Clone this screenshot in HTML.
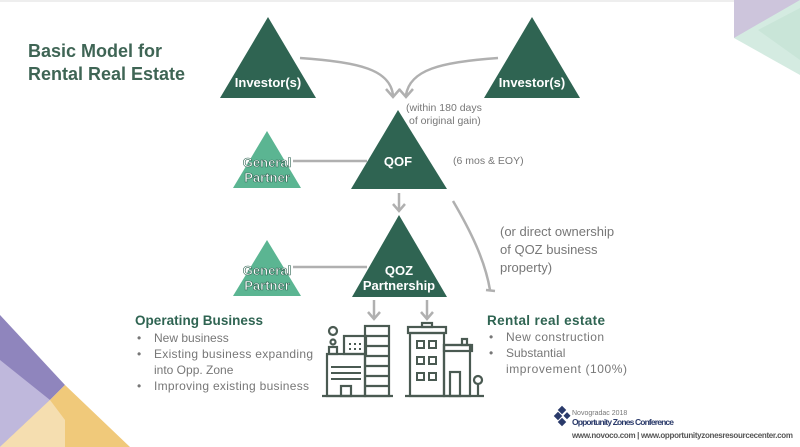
<!DOCTYPE html>
<html><head><style>
body{margin:0;background:#fff}
svg{display:block;font-family:"Liberation Sans",sans-serif}
</style></head><body>
<svg width="800" height="447" viewBox="0 0 800 447">
<rect width="800" height="447" fill="#fff"/>
<line x1="0" y1="1" x2="800" y2="1" stroke="#ddd"/>
<!-- corner decorations -->
<polygon points="734,0 800,0 800,30 734,38" fill="#cdc5dc"/>
<polygon points="734,38 800,0 800,75" fill="#d4ebe1"/>
<polygon points="758,30 800,8 800,60" fill="#c9e5d8"/>
<polygon points="0,315 65,385 50,400 0,420" fill="#8f85bd"/>
<polygon points="0,360 50,400 0,447" fill="#bfb8dc"/>
<polygon points="65,385 130,447 0,447 50,400" fill="#f0c97a"/>
<polygon points="50,400 65,420 65,447 0,447" fill="#f5deb0"/>
<!-- title -->
<text x="28" y="57" font-size="18" font-weight="bold" fill="#3f6555">Basic Model for</text>
<text x="28" y="80" font-size="18" font-weight="bold" fill="#3f6555">Rental Real Estate</text>
<!-- connectors -->
<g stroke="#b0b0b0" stroke-width="2.5" fill="none">
<path d="M300,58 C360,62 390,70 393,95"/>
<path d="M498,58 C440,62 410,70 406,95"/>
<polyline points="386,89 393,97 400,89"/>
<polyline points="399,89 406,97 413,89"/>
<line x1="293" y1="161" x2="367" y2="161"/>
<line x1="293" y1="267" x2="367" y2="267"/>
<line x1="399" y1="193" x2="399" y2="210"/>
<polyline points="393,204 399,211 405,204"/>
<path d="M453,201 C470,230 485,260 490,290"/>
<line x1="486" y1="290" x2="495" y2="291"/>
<line x1="374" y1="300" x2="374" y2="318"/>
<polyline points="368,312 374,319 380,312"/>
<line x1="427" y1="300" x2="427" y2="318"/>
<polyline points="421,312 427,319 433,312"/>
</g>
<!-- triangles -->
<g fill="#2f6452">
<polygon points="268,17 220,98 316,98"/>
<polygon points="532,17 484,98 580,98"/>
<polygon points="398,110 351,189 447,189"/>
<polygon points="399,215 352,297 447,297"/>
</g>
<g fill="#5bb592">
<polygon points="267,131 233,188 301,188"/>
<polygon points="267,240 233,296 301,296"/>
</g>
<g fill="#fff" font-size="13" font-weight="bold" text-anchor="middle">
<text x="268" y="87">Investor(s)</text>
<text x="532" y="87">Investor(s)</text>
<text x="398" y="166">QOF</text>
<text x="399" y="275">QOZ</text>
<text x="399" y="290">Partnership</text>
<text x="267" y="167" stroke="#2f6452" stroke-width="0.6">General</text>
<text x="267" y="182" stroke="#2f6452" stroke-width="0.6">Partner</text>
<text x="267" y="275" stroke="#2f6452" stroke-width="0.6">General</text>
<text x="267" y="290" stroke="#2f6452" stroke-width="0.6">Partner</text>
</g>
<g fill="#777" font-size="10.5">
<text x="406" y="111">(within 180 days</text>
<text x="409" y="124">of original gain)</text>
<text x="453" y="164">(6 mos &amp; EOY)</text>
</g>
<g fill="#777" font-size="13">
<text x="500" y="236">(or direct ownership</text>
<text x="500" y="254">of QOZ business</text>
<text x="500" y="272">property)</text>
</g>
<!-- operating business -->
<text x="135" y="325" font-size="13.5" font-weight="bold" fill="#2f6452" textLength="128">Operating Business</text>
<g fill="#777" font-size="12">
<text x="137" y="342">•</text><text x="154" y="342">New business</text>
<text x="137" y="358">•</text><text x="154" y="358" textLength="159">Existing business expanding</text>
<text x="154" y="374">into Opp. Zone</text>
<text x="137" y="390">•</text><text x="154" y="390" textLength="155">Improving existing business</text>
</g>
<text x="487" y="325" font-size="13.5" font-weight="bold" fill="#2f6452" textLength="118">Rental real estate</text>
<g fill="#777" font-size="12">
<text x="489" y="341">•</text><text x="506" y="341" textLength="98">New construction</text>
<text x="489" y="357">•</text><text x="506" y="357">Substantial</text>
<text x="506" y="373" textLength="121">improvement (100%)</text>
</g>
<!-- buildings -->
<g stroke="#4a5a52" stroke-width="2.2" fill="none">
<line x1="322" y1="396" x2="393" y2="396"/>
<rect x="327" y="354" width="38" height="42"/>
<rect x="344" y="336" width="22" height="18"/>
<rect x="365" y="326" width="24" height="70"/>
<line x1="365" y1="336" x2="389" y2="336"/><line x1="365" y1="346" x2="389" y2="346"/>
<line x1="365" y1="356" x2="389" y2="356"/><line x1="365" y1="366" x2="389" y2="366"/>
<line x1="365" y1="376" x2="389" y2="376"/><line x1="365" y1="386" x2="389" y2="386"/>
<circle cx="333" cy="331" r="4"/><circle cx="333" cy="342" r="2.5"/>
<rect x="329" y="347" width="8" height="7"/>
<rect x="341" y="386" width="10" height="10"/>
<line x1="405" y1="396" x2="484" y2="396"/>
<rect x="410" y="333" width="34" height="63"/>
<rect x="408" y="327" width="38" height="6"/>
<rect x="422" y="323" width="10" height="4"/>
<rect x="444" y="345" width="26" height="51"/>
<rect x="444" y="345" width="28" height="6"/>
<rect x="462" y="339" width="5" height="6"/>
<rect x="450" y="372" width="10" height="24"/>
<circle cx="478" cy="380" r="4"/><line x1="478" y1="384" x2="478" y2="396"/>
</g>
<g stroke="#4a5a52" stroke-width="2" fill="none">
<rect x="417" y="341" width="7" height="7"/><rect x="429" y="341" width="7" height="7"/>
<rect x="417" y="357" width="7" height="7"/><rect x="429" y="357" width="7" height="7"/>
<rect x="417" y="373" width="7" height="7"/><rect x="429" y="373" width="7" height="7"/>
</g>
<g fill="#4a5a52">
<rect x="349" y="343" width="2" height="2"/><rect x="354" y="343" width="2" height="2"/><rect x="359" y="343" width="2" height="2"/>
<rect x="349" y="348" width="2" height="2"/><rect x="354" y="348" width="2" height="2"/><rect x="359" y="348" width="2" height="2"/>
<rect x="331" y="366" width="30" height="2"/>
<rect x="331" y="372" width="30" height="2"/>
<rect x="331" y="378" width="30" height="2"/>
</g>
<!-- logo -->
<g fill="#2a3a6a">
<rect x="559" y="407" width="6" height="6" transform="rotate(45 562 410)"/>
<rect x="555" y="413" width="6" height="6" transform="rotate(45 558 416)"/>
<rect x="559" y="419" width="6" height="6" transform="rotate(45 562 422)"/>
<rect x="565" y="413" width="5" height="5" transform="rotate(45 567 415)"/>
</g>
<text x="572" y="415" font-size="7" fill="#777">Novogradac 2018</text>
<text x="572" y="425" font-size="8.5" font-weight="bold" fill="#2a3a6a" textLength="102">Opportunity Zones Conference</text>
<text x="572" y="438" font-size="8" font-weight="bold" fill="#555" textLength="221">www.novoco.com | www.opportunityzonesresourcecenter.com</text>
</svg>
</body></html>
